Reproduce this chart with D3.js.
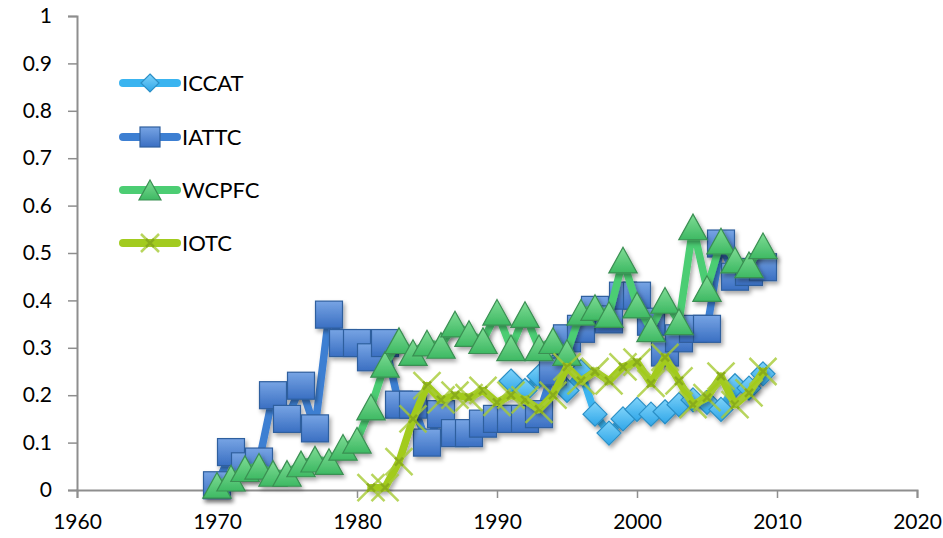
<!DOCTYPE html>
<html><head><meta charset="utf-8">
<script src="https://cdn.jsdelivr.net/npm/d3@7"></script>
<style>html,body{margin:0;padding:0;background:#fff;} svg{display:block;font-family:Lato,"Open Sans",sans-serif;}</style>
</head><body>
<svg id="chart" width="943" height="538"></svg>
<script>
const xTicks = [1960,1970,1980,1990,2000,2010,2020];
const yTicks = [0,0.1,0.2,0.3,0.4,0.5,0.6,0.7,0.8,0.9,1];
const yTickLabels = ["0","0.1","0.2","0.3","0.4","0.5","0.6","0.7","0.8","0.9","1"];
const seriesNames = ["ICCAT","IATTC","WCPFC","IOTC"];

const iccatYears = [1991,1992,1993,1994,1995,1996,1997,1998,1999,2000,2001,2002,2003,2004,2005,2006,2007,2008,2009];
const iccatValues = [0.23,0.21,0.24,0.26,0.21,0.25,0.16,0.12,0.15,0.17,0.16,0.165,0.18,0.19,0.185,0.17,0.22,0.215,0.245];

const iattcYears = d3.range(1970,2010);
const iattcValues = [0.01,0.08,0.05,0.06,0.20,0.15,0.22,0.13,0.37,0.31,0.31,0.28,0.31,0.18,0.18,0.10,0.16,0.12,0.12,0.14,0.15,0.15,0.15,0.16,0.25,0.32,0.34,0.38,0.36,0.41,0.41,0.355,0.29,0.32,0.34,0.34,0.52,0.45,0.46,0.47];

const wcpfcYears = d3.range(1970,2010);
const wcpfcValues = [0.01,0.025,0.045,0.05,0.035,0.035,0.055,0.065,0.06,0.09,0.105,0.175,0.265,0.315,0.29,0.31,0.305,0.35,0.33,0.315,0.375,0.30,0.37,0.30,0.315,0.29,0.375,0.385,0.37,0.485,0.39,0.34,0.40,0.355,0.555,0.425,0.525,0.485,0.475,0.515];

const iotcYears = d3.range(1981,2010);
const iotcValues = [0.005,0.005,0.06,0.15,0.22,0.19,0.20,0.195,0.21,0.185,0.20,0.19,0.17,0.20,0.26,0.23,0.25,0.23,0.26,0.27,0.225,0.28,0.23,0.18,0.195,0.24,0.18,0.205,0.25];

const svg = d3.select("#chart");
const x = d3.scaleLinear().domain([1960,2020]).range([77,917]);
const y = d3.scaleLinear().domain([0,1]).range([490,16]);

const defs = svg.append("defs");
const f = defs.append("filter").attr("id","sh").attr("x","-30%").attr("y","-30%").attr("width","160%").attr("height","160%");
f.append("feDropShadow").attr("dx",2).attr("dy",3).attr("stdDeviation",2).attr("flood-color","#000").attr("flood-opacity",0.35);

function grad(id, top, bottom){
  const g = defs.append("linearGradient").attr("id",id).attr("x1",0).attr("y1",0).attr("x2",0).attr("y2",1);
  g.append("stop").attr("offset","0%").attr("stop-color",top);
  g.append("stop").attr("offset","100%").attr("stop-color",bottom);
}
grad("gDia","#7fd3fa","#2fa6e8");
grad("gSq","#77a4e4","#3a6fc2");
grad("gTri","#7fdc95","#3eb963");

// axes
const axisColor = "#8e8e8e";
const yAxis = d3.axisLeft(y).tickValues(yTicks).tickFormat((d,i)=>yTickLabels[i]).tickSize(9).tickPadding(16);
const gy = svg.append("g").attr("transform","translate(77,0)").call(yAxis);
gy.select(".domain").attr("stroke",axisColor).attr("stroke-width",2);
gy.selectAll(".tick line").attr("stroke",axisColor).attr("stroke-width",1.5);
gy.selectAll(".tick text").attr("fill","#000").style("font-size","21px").style("font-family","Lato, sans-serif");

const xAxis = d3.axisBottom(x).tickValues(xTicks).tickFormat(d3.format("d")).tickSize(8).tickPadding(16);
const gx = svg.append("g").attr("transform","translate(0,490)").call(xAxis);
gx.select(".domain").attr("stroke",axisColor).attr("stroke-width",2);
gx.selectAll(".tick line").attr("stroke",axisColor).attr("stroke-width",1.5);
gx.selectAll(".tick text").attr("fill","#000").style("font-size","21px").style("font-family","Lato, sans-serif");

const line = d3.line().x(d=>x(d[0])).y(d=>y(d[1]));

const series = [
  {name:"ICCAT", years:iccatYears, values:iccatValues, color:"#3ab4f0", marker:"diamond"},
  {name:"IATTC", years:iattcYears, values:iattcValues, color:"#3d7fd2", marker:"square"},
  {name:"WCPFC", years:wcpfcYears, values:wcpfcValues, color:"#4ccd73", marker:"triangle"},
  {name:"IOTC", years:iotcYears, values:iotcValues, color:"#a2cb1f", marker:"x"}
];

function drawMarker(g, type, cx, cy, s){
  if(type==="diamond"){
    const h=s/2;
    g.append("path").attr("d",`M${cx},${cy-h}L${cx+h},${cy}L${cx},${cy+h}L${cx-h},${cy}Z`)
      .attr("fill","url(#gDia)").attr("stroke","#2b8fc6").attr("stroke-width",1.2);
  } else if(type==="square"){
    const h=s/2;
    g.append("rect").attr("x",cx-h).attr("y",cy-h).attr("width",s).attr("height",s)
      .attr("fill","url(#gSq)").attr("stroke","#2f5f9e").attr("stroke-width",1.2);
  } else if(type==="triangle"){
    const w=s*1.05/2, h=s*0.95/2;
    g.append("path").attr("d",`M${cx},${cy-h}L${cx+w},${cy+h}L${cx-w},${cy+h}Z`)
      .attr("fill","url(#gTri)").attr("stroke","#3a8f52").attr("stroke-width",1.2);
  } else {
    const h=s/2;
    g.append("path").attr("d",`M${cx-h},${cy-h}L${cx+h},${cy+h}M${cx+h},${cy-h}L${cx-h},${cy+h}`)
      .attr("stroke","#a6cb34").attr("stroke-width",2.5).attr("stroke-opacity",0.8).attr("fill","none");
    g.append("path").attr("d",`M${cx-4},${cy-4}L${cx+4},${cy+4}M${cx+4},${cy-4}L${cx-4},${cy+4}`)
      .attr("stroke","#86a81a").attr("stroke-width",2.5).attr("stroke-opacity",0.9).attr("fill","none");
  }
}

const sizes = {diamond:24, square:27, triangle:27, x:27};

series.forEach(s=>{
  const pts = s.years.map((yr,i)=>[yr,s.values[i]]);
  const g = svg.append("g").attr("filter","url(#sh)");
  g.append("path").datum(pts).attr("d",line).attr("fill","none").attr("stroke",s.color)
    .attr("stroke-width",7.5).attr("stroke-linejoin","round").attr("stroke-linecap","round");
  const mg = svg.append("g").attr("filter", s.marker==="x" ? null : "url(#sh)");
  pts.forEach(p=>drawMarker(mg, s.marker, x(p[0]), y(p[1]), sizes[s.marker]));
});

// legend
const legY = [83,137,190,243];
const legSizes = {diamond:18, square:20, triangle:21, x:18};
series.forEach((s,i)=>{
  const g = svg.append("g");
  g.append("line").attr("x1",123).attr("x2",177).attr("y1",legY[i]).attr("y2",legY[i])
    .attr("stroke",s.color).attr("stroke-width",8).attr("stroke-linecap","round");
  drawMarker(g, s.marker, 150, legY[i], legSizes[s.marker]);
  g.append("text").attr("x",182).attr("y",legY[i]).attr("dy","0.36em")
    .style("font-size","22px").style("font-family","Lato, sans-serif").attr("fill","#000").text(s.name);
});
</script>
</body></html>
